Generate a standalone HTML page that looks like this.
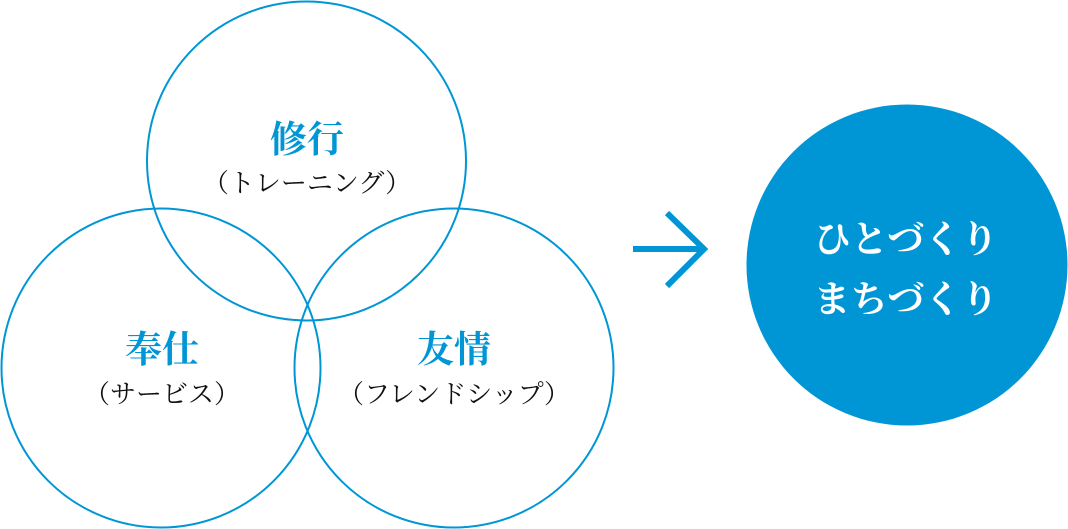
<!DOCTYPE html>
<html><head><meta charset="utf-8"><style>
html,body{margin:0;padding:0;background:#fff;width:1068px;height:529px;overflow:hidden}
.t{font-family:"Liberation Serif","Noto Serif CJK SC",serif;font-weight:bold;fill:#0096d6;font-size:37px}
.p{font-family:"Liberation Serif","Noto Serif CJK SC",serif;fill:#111;font-size:26px;letter-spacing:0px}
.w{font-family:"Liberation Serif","Noto Serif CJK SC",serif;font-weight:bold;fill:#fff;font-size:37px;letter-spacing:0px}
</style></head><body>
<svg width="1068" height="529" viewBox="0 0 1068 529" xmlns="http://www.w3.org/2000/svg">
<g fill="none" stroke="#0096d6" stroke-width="2">
<circle cx="306.5" cy="161" r="159.5"/>
<circle cx="161" cy="368" r="159.5"/>
<circle cx="454" cy="368" r="159.5"/>
</g>
<circle cx="907" cy="265" r="160.5" fill="#0096d6"/>
<g stroke="#0096d6" stroke-width="6" fill="none">
<line x1="633" y1="249" x2="704" y2="249"/>
<polyline points="667,213 704,249 667,286"/>
</g>
<text class="t" x="307" y="152" text-anchor="middle">修行</text>
<text class="p" x="307" y="192" text-anchor="middle">（トレーニング）</text>
<text class="t" x="162" y="362" text-anchor="middle">奉仕</text>
<text class="p" x="162" y="403" text-anchor="middle">（サービス）</text>
<text class="t" x="454" y="362" text-anchor="middle">友情</text>
<text class="p" x="454" y="403" text-anchor="middle">（フレンドシップ）</text>
<text class="w" x="906" y="252" text-anchor="middle">ひとづくり</text>
<text class="w" x="906" y="312" text-anchor="middle">まちづくり</text>
</svg>
</body></html>
